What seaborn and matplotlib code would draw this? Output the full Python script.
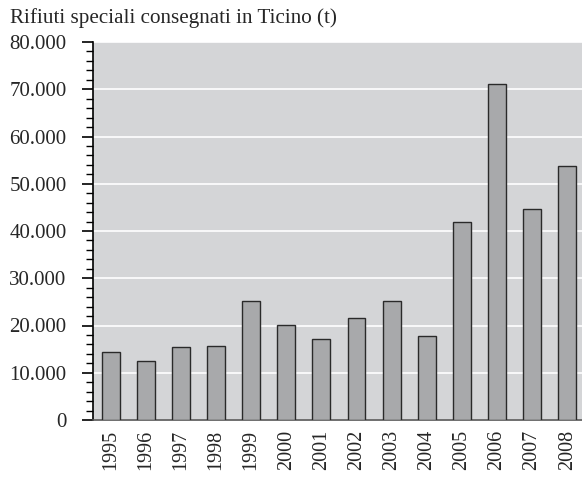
import matplotlib
matplotlib.use("Agg")
import matplotlib.pyplot as plt
import matplotlib.ticker as mticker
import seaborn as sns
import pandas as pd

# Data
years = ["1995", "1996", "1997", "1998", "1999", "2000", "2001",
         "2002", "2003", "2004", "2005", "2006", "2007", "2008"]
tonnes = [14400, 12500, 15400, 15700, 25100, 20100, 17100,
          21500, 25200, 17700, 41900, 71200, 44600, 53700]
y_ticks = [0, 10000, 20000, 30000, 40000, 50000, 60000, 70000, 80000]

data = pd.DataFrame({"year": years, "tonnes": tonnes})

sns.set_style("white")
plt.rcParams["font.family"] = ["Liberation Serif", "DejaVu Serif"]

fig = plt.figure(figsize=(5.82, 4.79), dpi=100)
ax = fig.add_axes([93 / 582, 59 / 479, 489 / 582, 378 / 479])
ax.set_facecolor("#d4d5d7")

sns.barplot(data=data, x="year", y="tonnes", color="#a8a9ab",
            saturation=1, width=0.51, edgecolor="#2a2a2a", linewidth=1,
            zorder=3, ax=ax)

ax.set_ylim(0, 80000)
ax.set_xlim(-0.5, 13.42)
ax.set_yticks(y_ticks)
ax.yaxis.set_minor_locator(mticker.MultipleLocator(2000))
ax.yaxis.set_major_formatter(
    mticker.FuncFormatter(lambda v, p: f"{int(v):,}".replace(",", ".")))
ax.grid(axis="y", color="white", linewidth=1.2, zorder=1)
ax.set_axisbelow(True)

ax.tick_params(axis="y", which="major", direction="out", length=8,
               width=1.2, color="black", labelsize=15, pad=11, left=True)
ax.tick_params(axis="y", which="minor", direction="out", length=5,
               width=1, color="black", left=True)
ax.tick_params(axis="x", length=0, labelsize=14.5, pad=7, rotation=90)

for s in ["top", "right"]:
    ax.spines[s].set_visible(False)
ax.spines["left"].set_color("black")
ax.spines["left"].set_linewidth(1.2)
ax.spines["bottom"].set_color("#555555")
ax.spines["bottom"].set_linewidth(1.2)

ax.set_xlabel("")
ax.set_ylabel("")

fig.text(10 / 582, 1 - 18 / 479, "Rifiuti speciali consegnati in Ticino (t)",
         fontsize=15.2, va="center", ha="left")

fig.savefig("out.png", dpi=100)
